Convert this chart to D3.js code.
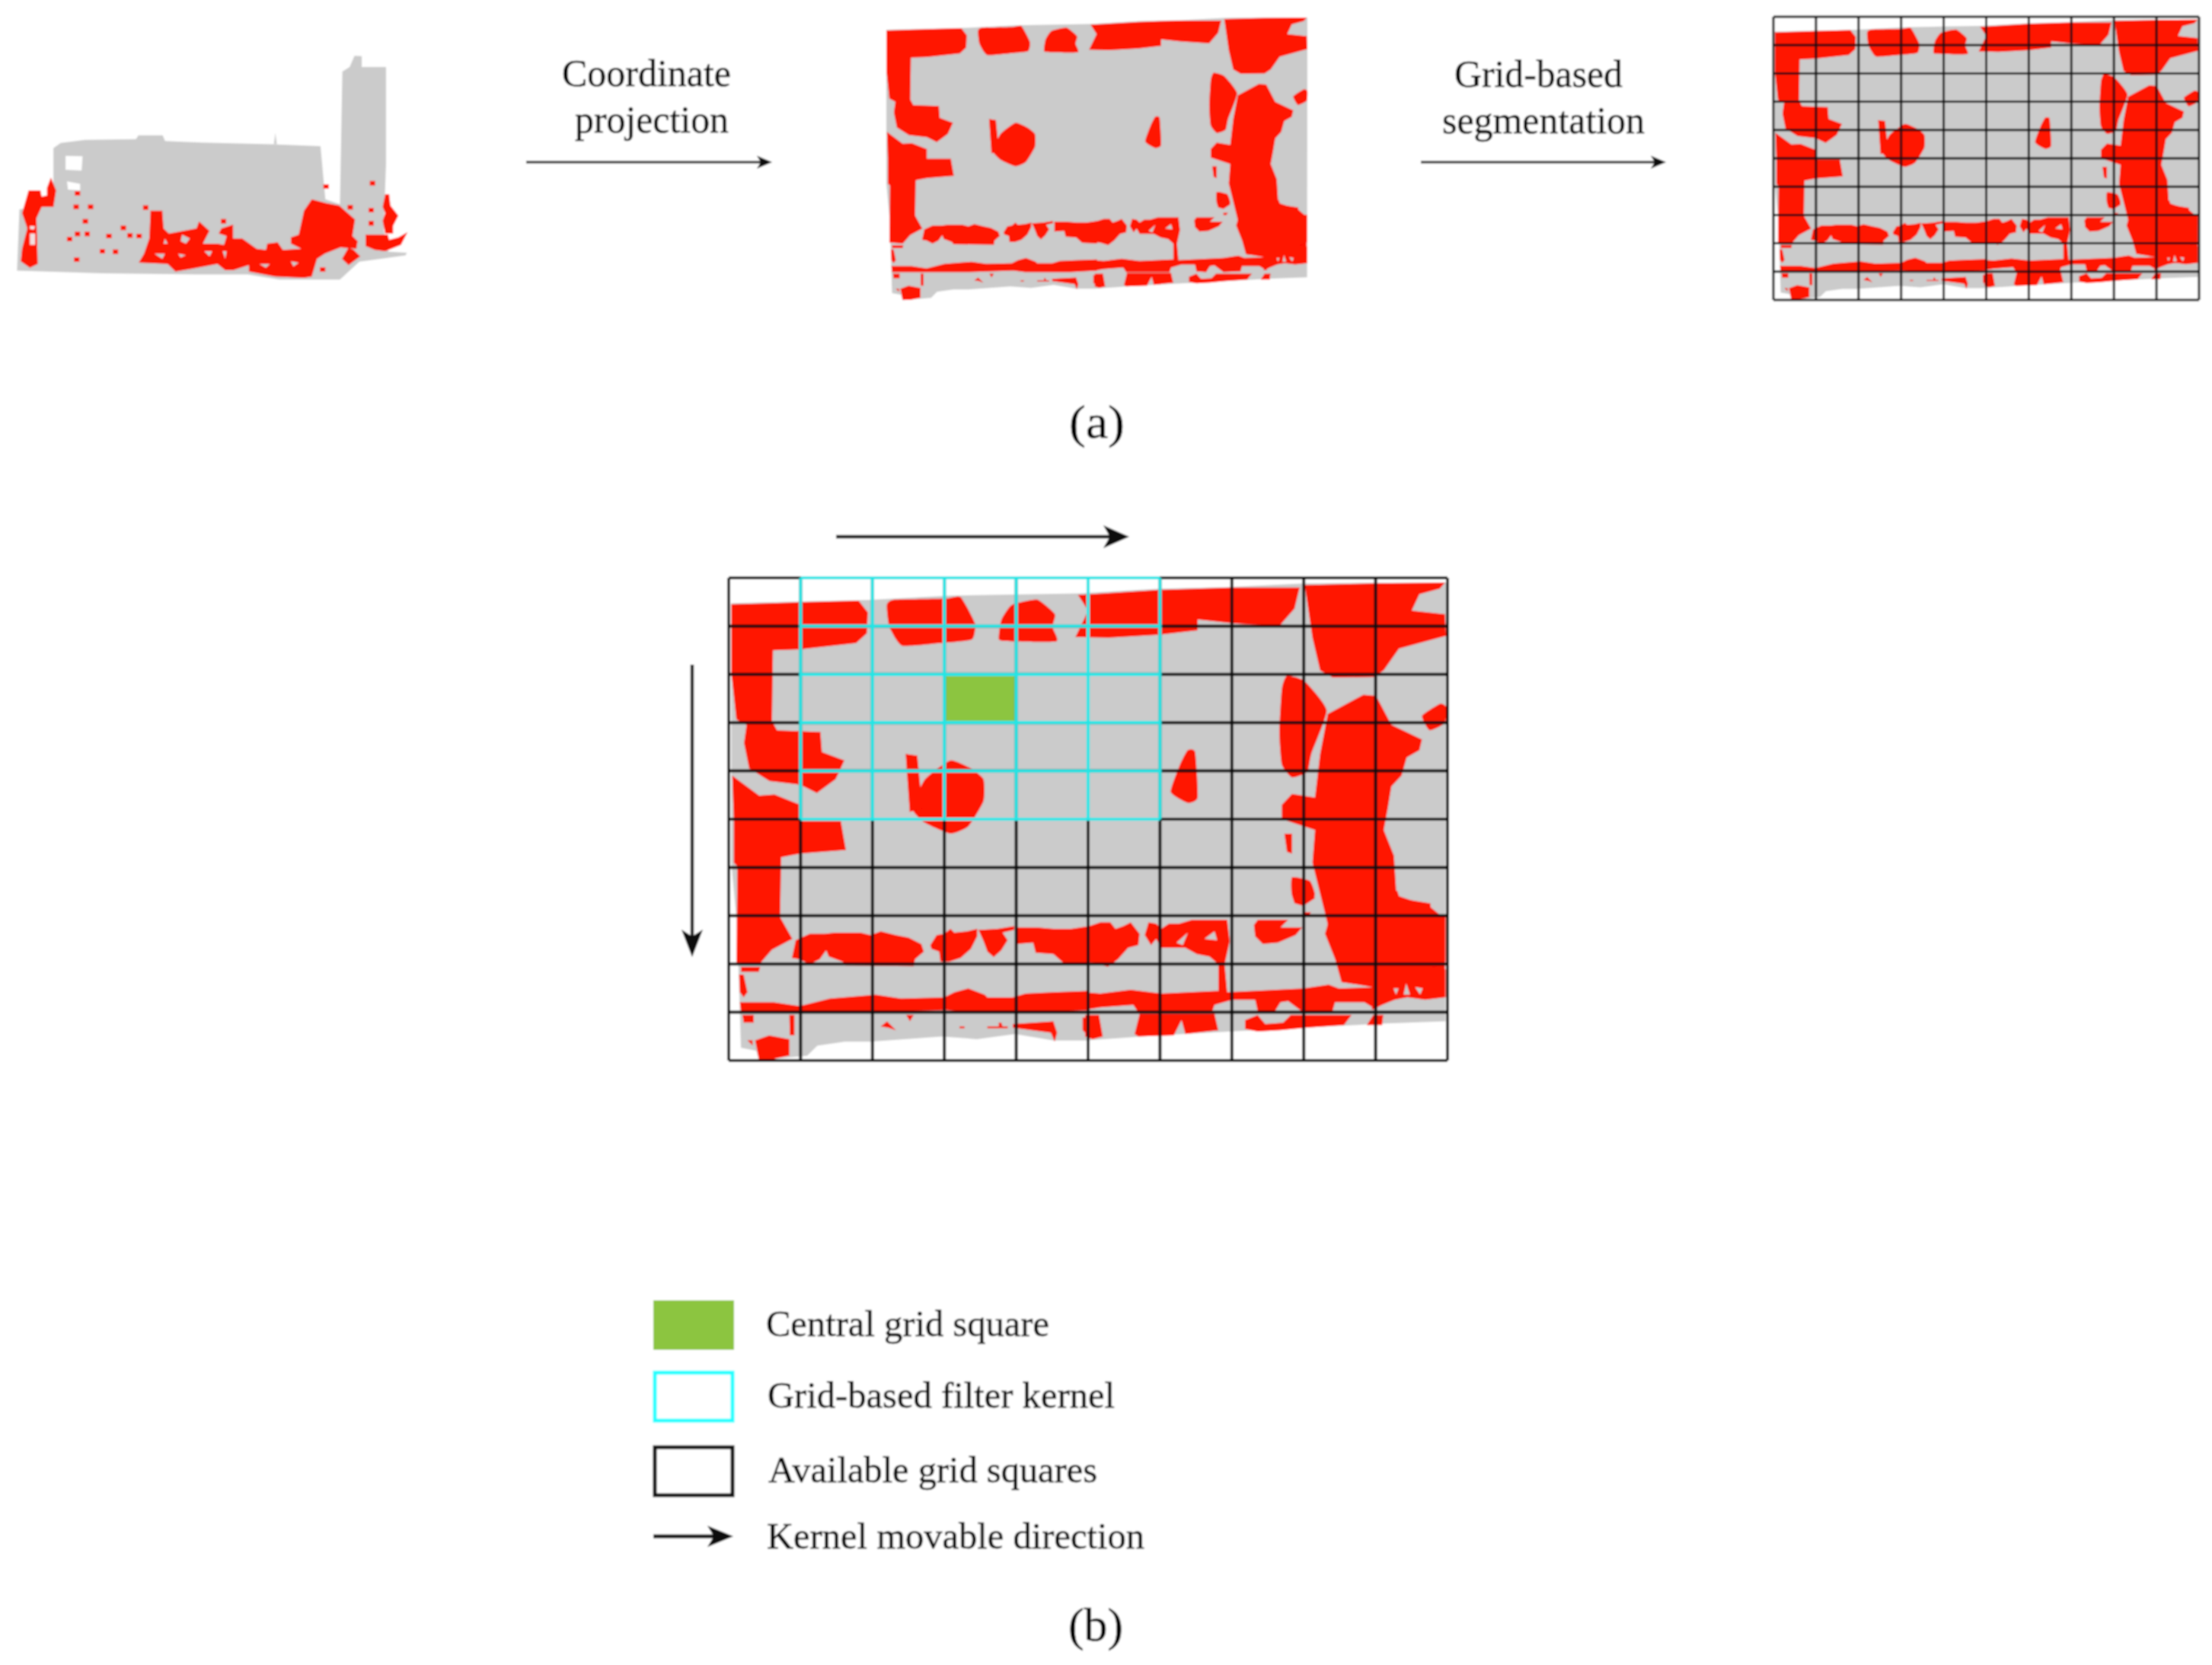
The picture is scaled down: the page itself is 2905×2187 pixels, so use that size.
<!DOCTYPE html>
<html><head><meta charset="utf-8">
<script src="https://cdn.jsdelivr.net/npm/d3@7"></script>
<style>html,body{margin:0;padding:0;background:#fff}svg{display:block}text{font-family:"Liberation Serif",serif;fill:#000;stroke:#000;stroke-width:.45}</style>
</head><body>
<svg id="c" width="2905" height="2187" viewBox="0 0 2905 2187"></svg>
<script>
// Plan-view outline and upper patches, in plan units
const planGray = [[90,235],[225,230],[360,226],[520,214],[770,208],[930,195],[1070,190],[1215,180],[1350,178],[1492,178],[1491,1387],[1357,1394],[1212,1405],[1073,1415],[928,1426],[784,1440],[722,1440],[647,1422],[572,1436],[503,1429],[363,1443],[313,1443],[259,1454],[239,1482],[144,1494],[139,1468],[109,1460],[107,1370],[104,1237],[100,1100],[90,950]];
const planRed = [
 [[90,238],[225,232],[340,228],[358,260],[356,318],[335,345],[225,362],[172,365],[170,560],[180,585],[265,590],[268,645],[312,668],[295,720],[258,758],[225,735],[165,725],[125,690],[115,620],[120,570],[100,555],[92,450],[90,430]],
 [[92,710],[145,765],[175,762],[225,790],[225,835],[305,835],[315,915],[225,925],[188,935],[186,1100],[210,1160],[170,1190],[145,1230],[100,1225],[102,960],[95,950],[95,830]],
 [[770,212],[930,198],[1070,192],[1205,192],[1195,250],[1165,298],[1070,290],[1005,280],[1005,310],[930,322],[830,330],[765,328],[790,255]],
 [[1215,185],[1350,180],[1490,178],[1480,195],[1440,210],[1425,255],[1490,265],[1492,325],[1400,360],[1370,420],[1350,438],[1270,440],[1245,420],[1230,330]],
 [[1330,487],[1355,490],[1385,570],[1445,610],[1440,640],[1415,660],[1405,710],[1385,740],[1378,800],[1370,860],[1390,930],[1395,1040],[1460,1070],[1490,1105],[1490,1300],[1290,1280],[1260,1120],[1230,950],[1235,860],[1170,830],[1170,790],[1190,760],[1235,770],[1245,650],[1260,540]]
];
const planBlobs = [
 [[395,240],[410,225],[510,222],[540,218],[568,290],[562,335],[500,345],[425,352],[400,300]],
 [[640,240],[690,225],[725,265],[720,300],[728,340],[640,340],[615,335],[620,280]],
 [[1180,435],[1215,450],[1258,530],[1228,650],[1220,700],[1190,715],[1170,680],[1165,590],[1170,470]],
 [[1445,545],[1480,512],[1492,520],[1490,565],[1460,585]],
 [[985,640],[1000,645],[1005,770],[985,785],[952,755],[970,680]],
 [[520,668],[560,690],[585,720],[585,780],[555,850],[520,870],[470,840],[445,800],[470,720]],
 [[1190,990],[1225,1000],[1235,1040],[1210,1060],[1190,1040]]
];
const planSlivers = [
 [[432,650],[455,655],[465,800],[440,810]],
 [[1175,870],[1190,870],[1190,925],[1180,920]]
];
// Lower part of the plan, west half, in trace units
const westRed = [
 [[270,265],[285,195],[340,170],[400,170],[440,165],[540,165],[580,175],[620,160],[680,175],[730,185],[780,210],[790,240],[755,270],[750,298],[480,295],[470,280],[415,260],[405,235],[380,270],[340,290],[300,270]],
 [[815,215],[840,175],[870,170],[895,150],[910,165],[960,160],[1000,150],[1000,180],[975,230],[935,265],[890,280],[855,280],[850,240],[820,230]],
 [[1005,155],[1080,150],[1145,140],[1145,155],[1100,165],[1120,195],[1095,235],[1065,262],[1040,240],[1025,200]],
 [[1155,145],[1240,145],[1300,150],[1370,150],[1440,140],[1440,290],[1340,285],[1300,250],[1230,245],[1220,205],[1155,210]],
 [[65,440],[120,440],[200,440],[300,455],[420,425],[600,410],[700,425],[870,420],[910,400],[965,385],[1030,410],[1040,420],[1140,420],[1190,405],[1300,400],[1440,395],[1440,470],[1260,480],[1150,480],[1040,480],[960,480],[880,470],[580,480],[300,480],[70,480]],
 [[62,330],[80,330],[95,400],[80,420],[65,400]],[[75,490],[120,490],[120,520],[80,520]],[[260,490],[280,490],[280,570],[262,570]],
 [[125,590],[180,570],[260,585],[260,650],[190,665],[140,665]],[[95,590],[115,590],[115,610]],[[620,535],[645,515],[680,550],[650,540]],
 [[1140,525],[1300,515],[1315,560],[1305,595],[1290,560],[1140,540]],[[720,490],[750,490],[735,515]],[[1415,500],[1440,500],[1440,575],[1415,550]],
 [[1040,535],[1120,535],[1120,542],[1040,542]],[[930,535],[950,535],[950,542],[930,542]],[[1085,520],[1095,520],[1100,535],[1085,535]],[[70,300],[145,300],[140,320],[70,320]]
];
// Lower part of the plan, east half, in trace units
const eastRed = [
 [[0,145],[60,125],[100,125],[120,150],[150,140],[180,125],[215,170],[210,215],[170,225],[130,270],[90,300],[40,285],[0,280]],
 [[235,175],[250,125],[280,130],[300,150],[330,130],[370,130],[420,115],[560,115],[570,200],[550,290],[525,290],[490,260],[440,250],[395,225],[350,225],[300,225],[280,190],[260,215]],
 [[665,135],[680,115],[800,115],[770,145],[855,145],[830,175],[760,205],[700,210],[670,180]],
 [[525,290],[550,290],[560,400],[525,400]],
 [[0,400],[60,405],[180,390],[300,405],[520,395],[560,400],[860,385],[960,370],[1000,385],[1150,380],[1150,470],[1100,440],[985,440],[975,475],[860,480],[800,435],[770,440],[745,480],[680,475],[670,430],[580,430],[510,450],[500,480],[210,480],[190,450],[60,460],[0,470]],
 [[0,490],[55,490],[70,575],[30,585],[0,575]],
 [[215,485],[510,485],[525,550],[395,565],[380,510],[350,570],[210,575],[195,565]],
 [[630,510],[680,490],[710,525],[780,520],[810,490],[1050,490],[1020,530],[870,540],[770,550],[680,555],[630,545]],
 [[1110,530],[1135,490],[1175,490],[1170,530]],
 [[950,0],[1230,0],[1240,30],[1360,50],[1365,95],[1420,100],[1420,280],[1370,300],[1420,310],[1420,420],[1340,430],[1270,420],[1220,430],[1170,450],[1130,470],[1130,380],[1010,360],[985,270],[945,170],[965,100]],
 [[815,20],[850,0],[900,0],[905,30],[860,60],[825,50]],[[860,85],[890,85],[880,100],[860,100]]
];
const eastGray = [[[360,205],[405,165],[385,215]],[[470,190],[510,160],[520,195]],[[1215,385],[1235,385],[1225,410]],[[1265,365],[1280,410],[1255,410]],[[1300,380],[1330,385],[1320,410]]];
// Side view of the building
const sideGray = [[110,580],[125,560],[175,548],[280,545],[285,530],[335,530],[340,552],[415,558],[560,565],[660,572],[670,780],[700,800],[705,280],[720,262],[730,218],[745,220],[745,262],[795,262],[795,640],[790,900],[800,985],[838,990],[835,1000],[740,1025],[700,1095],[575,1095],[510,1075],[420,1075],[210,1070],[35,1060],[40,820],[110,800]];
const sideSpike = [[564,565],[567,520],[570,565]];
const sideHoles = [[[135,610],[170,612],[168,668],[135,665]],[[138,710],[165,720],[165,745],[140,742]]];
// Lower band of the side view, in trace units
const bandRed = [
 [[165,100],[185,150],[175,215],[130,215],[110,260],[115,440],[85,455],[50,430],[55,380],[75,300],[55,240],[80,150],[125,150],[130,175],[150,170],[150,140]],
 [[1160,185],[1215,200],[1265,210],[1325,265],[1315,330],[1335,350],[1330,380],[1270,375],[1210,400],[1180,420],[1160,490],[1130,495],[1020,490],[920,470],[920,445],[860,465],[830,465],[800,440],[700,460],[640,470],[610,440],[500,435],[520,400],[540,340],[545,230],[590,230],[595,300],[615,320],[720,300],[730,272],[770,310],[745,360],[800,360],[825,365],[835,330],[805,320],[815,300],[860,285],[860,340],[895,340],[950,380],[985,385],[990,360],[1030,355],[1050,385],[1120,380],[1080,360],[1080,335],[1110,325],[1130,230]],
 [[1440,165],[1455,165],[1460,210],[1490,250],[1470,290],[1470,320],[1440,320],[1430,270],[1440,240],[1430,215]],
 [[1365,325],[1450,325],[1455,345],[1490,335],[1525,315],[1500,365],[1440,390],[1400,385],[1365,370]],
 [[1275,420],[1300,375],[1320,385],[1345,410],[1300,445]]
];
const bandLight = [[[85,320],[105,320],[105,365],[85,365]],[[85,290],[105,292],[100,305],[85,302]]];
const bandGray = [[[665,325],[695,340],[680,360],[660,350]],[[600,340],[610,360],[595,360]],[[750,390],[780,390],[770,410]],[[650,400],[680,405],[660,415]],[[820,390],[835,390],[830,420]],[[560,400],[600,400],[590,420]],[[960,440],[1000,440],[985,455]],[[1080,430],[1110,435],[1090,450]]];
const bandDots = [[260,215],[315,215],[525,218],[295,272],[265,322],[302,322],[440,298],[465,328],[235,342],[410,392],[262,423],[822,272],[1305,217],[1385,228],[1390,122],[1385,280],[1213,135],[1200,462],[265,162],[360,390],[500,330],[385,330]];
// Grid
const gridCols = [0,1,2,3,4,5,6,7,8,9,10];
const gridRows = [0,1,2,3,4,5,6,7,8,9,10];
const kernelCols = [1,2,3,4,5,6];
const kernelRows = [0,1,2,3,4,5];
const centralCell = [3,2];
// Labels
const legendLabels = ["Central grid square","Grid-based filter kernel","Available grid squares","Kernel movable direction"];
const captions = ["(a)","(b)"];
const flowLabels = [["Coordinate","projection"],["Grid-based","segmentation"]];

const RED="#ff1200", GRAY="#cbcbcb", BLACK="#0c0c0c", CYAN="#22e6e6", LCYAN="#22ffff", GREEN="#8cc53f";
const svg=d3.select("#c");
const defs=svg.append("defs");
defs.append("filter").attr("id","soft").attr("x","-2%").attr("y","-2%").attr("width","104%").attr("height","104%")
  .append("feGaussianBlur").attr("stdDeviation",0.8);
const root=svg.append("g").attr("filter","url(#soft)");
root.append("rect").attr("width",2905).attr("height",2187).attr("fill","#fff");

const westX=d3.scaleLinear().domain([0,1440]).range([74.5,791.6]), lowY=d3.scaleLinear().domain([0,690]).range([1027,1509.5]);
const eastX=d3.scaleLinear().domain([0,1440]).range([784,1501.1]);

function poly(g,pts,fill,sx,sy,curve){
  const l=d3.line().x(d=>sx(d[0])).y(d=>sy(d[1]));
  if(curve) l.curve(curve);
  g.append("path").attr("d",curve?l(pts):l(pts)+"Z").attr("fill",fill);
}
function plan(g,sx,sy){
  poly(g,planGray,GRAY,sx,sy);
  planRed.forEach(p=>poly(g,p,RED,sx,sy));
  planBlobs.forEach(p=>poly(g,p,RED,sx,sy,d3.curveCardinalClosed.tension(0.5)));
  planSlivers.forEach(p=>poly(g,p,RED,sx,sy));
  const wx=z=>sx(westX(z)),ex=z=>sx(eastX(z)),ly=z=>sy(lowY(z));
  westRed.forEach(p=>poly(g,p,RED,wx,ly));
  eastRed.forEach(p=>poly(g,p,RED,ex,ly));
  eastGray.forEach(p=>poly(g,p,GRAY,ex,ly));
}
function grid(g,cx,cy,w,col){
  const [x0,x1]=cx.range(),[y0,y1]=cy.range();
  g.selectAll(null).data(gridCols).enter().append("line").attr("x1",d=>cx(d)).attr("x2",d=>cx(d)).attr("y1",y0).attr("y2",y1).attr("stroke",col).attr("stroke-width",w);
  g.selectAll(null).data(gridRows).enter().append("line").attr("y1",d=>cy(d)).attr("y2",d=>cy(d)).attr("x1",x0).attr("x2",x1).attr("stroke",col).attr("stroke-width",w);
}
function arrow(g,x1,y1,x2,y2,w,hl,hw){
  const a=Math.atan2(y2-y1,x2-x1),c=Math.cos(a),s=Math.sin(a);
  g.append("line").attr("x1",x1).attr("y1",y1).attr("x2",x2-hl*0.7*c).attr("y2",y2-hl*0.7*s).attr("stroke",BLACK).attr("stroke-width",w);
  const bx=x2-hl*c,by=y2-hl*s,nx=x2-hl*0.75*c,ny=y2-hl*0.75*s;
  g.append("path").attr("d",`M${x2},${y2}L${bx-s*hw/2},${by+c*hw/2}L${nx},${ny}L${bx+s*hw/2},${by-c*hw/2}Z`).attr("fill",BLACK);
}
function label(t,x,y,size,width){
  const e=root.append("text").attr("x",x).attr("y",y).attr("font-size",size).text(t);
  if(width) e.attr("textLength",width).attr("lengthAdjust","spacingAndGlyphs");
}

// Panel 1: side view
{
  const g=root.append("g");
  const sx=d3.scaleLinear().domain([0,1568]).range([0,1000]);
  const sy=d3.scaleLinear().domain([0,1252]).range([0,420]);
  poly(g,sideGray,GRAY,sx,sy);
  poly(g,sideSpike,GRAY,sx,sy);
  sideHoles.forEach(p=>poly(g,p,"#fff",sx,sy));
  const bx=d3.scaleLinear().domain([0,1568]).range([10,550]);
  const by=d3.scaleLinear().domain([0,540]).range([200,380]);
  bandRed.forEach(p=>poly(g,p,RED,bx,by));
  bandLight.forEach(p=>poly(g,p,"#f2e0e0",bx,by));
  bandGray.forEach(p=>poly(g,p,GRAY,bx,by));
  g.selectAll(null).data(bandDots).enter().append("rect")
    .attr("x",d=>bx(d[0])-3).attr("y",d=>by(d[1])-3).attr("width",7).attr("height",6).attr("fill",RED);
}
// Panel 2: projection
{
  const g=root.append("g");
  plan(g,d3.scaleLinear().domain([90,1492]).range([1164,1717]),d3.scaleLinear().domain([178,1492]).range([23,394]));
}
// Panel 3: segmented
{
  const g=root.append("g");
  const T0=22,T1=394;
  plan(g,d3.scaleLinear().domain([85,1495]).range([2329,2888]),d3.scaleLinear().domain([165,1495]).range([T0,T1]));
  grid(g,d3.scaleLinear().domain([0,10]).range([2329,2888]),d3.scaleLinear().domain([0,10]).range([T0,T1]),3,"#111");
}
// Panel b
{
  const g=root.append("g");
  const X0=957,X1=1901,Y0=759,Y1=1393;
  plan(g,d3.scaleLinear().domain([85,1495]).range([X0,X1]),d3.scaleLinear().domain([165,1495]).range([Y0,Y1]));
  const cx=d3.scaleLinear().domain([0,10]).range([X0,X1]),cy=d3.scaleLinear().domain([0,10]).range([Y0,Y1]);
  g.append("rect").attr("x",cx(centralCell[0])).attr("y",cy(centralCell[1])).attr("width",cx(1)-cx(0)).attr("height",cy(1)-cy(0)).attr("fill",GREEN);
  grid(g,cx,cy,4,BLACK);
  const kx=[cx(kernelCols[0]),cx(kernelCols[kernelCols.length-1])],ky=[cy(kernelRows[0]),cy(kernelRows[kernelRows.length-1])];
  g.selectAll(null).data(kernelCols).enter().append("line").attr("x1",d=>cx(d)).attr("x2",d=>cx(d)).attr("y1",ky[0]).attr("y2",ky[1]).attr("stroke",CYAN).attr("stroke-width",4.2);
  g.selectAll(null).data(kernelRows).enter().append("line").attr("y1",d=>cy(d)).attr("y2",d=>cy(d)).attr("x1",kx[0]).attr("x2",kx[1]).attr("stroke",CYAN).attr("stroke-width",4.2);
  arrow(g,1098,705,1483,705,4.4,34,30);
  arrow(g,909,873,909,1257,4.4,36,28);
}
// Flow arrows
arrow(root,691,213,1014,213,2.8,20,17);
arrow(root,1866,213,2188,213,2.8,20,17);
// Flow labels
label(flowLabels[0][0],738,113,50,222);
label(flowLabels[0][1],755,174,50,202);
label(flowLabels[1][0],1910,114,50,221);
label(flowLabels[1][1],1894,175,50,266);
// Captions
label(captions[0],1404,575,62,73);
label(captions[1],1403,2155,62,72);
// Legend
root.append("rect").attr("x",858).attr("y",1708).attr("width",106).attr("height",65).attr("fill",GREEN);
root.append("rect").attr("x",860).attr("y",1803).attr("width",102).attr("height",63).attr("fill","#fff").attr("stroke",LCYAN).attr("stroke-width",5);
root.append("rect").attr("x",860).attr("y",1901).attr("width",102).attr("height",63).attr("fill","#fff").attr("stroke","#111").attr("stroke-width",5);
arrow(root,858,2018,963,2018,5,34,28);
label(legendLabels[0],1006,1755,48,372);
label(legendLabels[1],1008,1849,48,456);
label(legendLabels[2],1009,1947,48,432);
label(legendLabels[3],1007,2034,48,496);
</script>
</body></html>
